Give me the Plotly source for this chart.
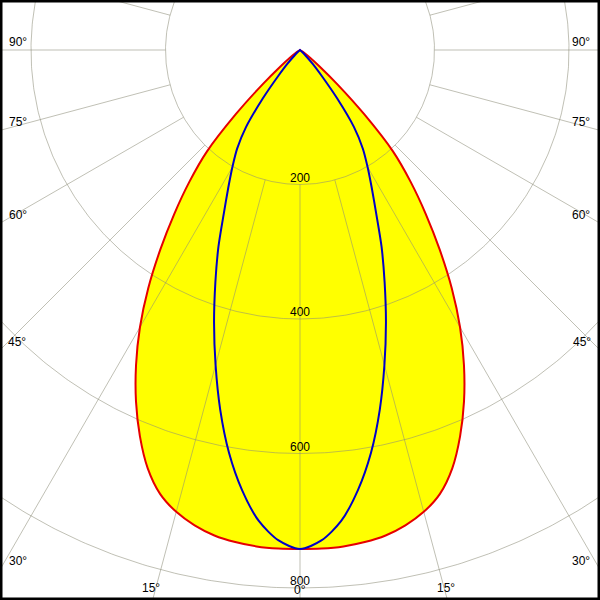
import numpy as np
import plotly.graph_objects as go

# Photometric data (cd) vs gamma angle (deg from nadir)
GAMMA = [0, 2.5, 5, 7.5, 10, 12.5, 15, 17.5, 20, 22.5, 25, 27.5, 30, 32.5, 35,
         37.5, 40, 42.5, 45, 47.5, 50, 52.5, 55, 57.5, 60, 90]
C0_C180 = [742, 742, 741, 738, 733, 724, 711, 692, 662, 622, 577, 528, 476, 420, 362,
           307, 256, 205, 135, 75, 38, 20, 8, 3, 0, 0]
C90_C270 = [742, 730, 703, 660, 608, 548, 485, 425, 368, 317, 268, 231, 201, 174, 140,
            91, 50, 28, 12, 5, 0, 0, 0, 0, 0, 0]

RING_VALUES = [200, 400, 600, 800]
RING_LABELS = ["200", "400", "600", "800"]
SPOKE_ANGLES = list(range(0, 360, 15))
ANGLE_LABELS = ["90°", "75°", "60°", "45°", "30°", "15°", "0°"]

PX_PER_CD = 0.6725
W = 600


def to_xy(gamma, inten):
    g = np.array(gamma, dtype=float)
    r = np.array(inten, dtype=float)
    ang = np.concatenate([-g[::-1], g[1:]])
    rr = np.concatenate([r[::-1], r[1:]])
    t = np.radians(ang)
    return rr * np.sin(t), -rr * np.cos(t)


rx, ry = to_xy(GAMMA, C0_C180)
bx, by = to_xy(GAMMA, C90_C270)

fig = go.Figure()

fig.add_trace(go.Scatter(x=rx, y=ry, mode="lines", fill="toself", fillcolor="#ffff00",
                         line=dict(width=0, color="rgba(0,0,0,0)", shape="spline", smoothing=0.8),
                         hoverinfo="skip"))

gx, gy = [], []
th = np.linspace(0, 2 * np.pi, 721)
for rv in RING_VALUES:
    gx += list(rv * np.sin(th)) + [None]
    gy += list(-rv * np.cos(th)) + [None]
for a in SPOKE_ANGLES:
    t = np.radians(a)
    gx += [RING_VALUES[0] * np.sin(t), 1200 * np.sin(t), None]
    gy += [-RING_VALUES[0] * np.cos(t), -1200 * np.cos(t), None]
fig.add_trace(go.Scatter(x=gx, y=gy, mode="lines",
                         line=dict(color="rgba(140,140,120,0.55)", width=1), hoverinfo="skip"))

fig.add_trace(go.Scatter(x=rx, y=ry, mode="lines",
                         line=dict(color="#e60000", width=2, shape="spline", smoothing=0.8),
                         hoverinfo="skip"))
fig.add_trace(go.Scatter(x=bx, y=by, mode="lines",
                         line=dict(color="#0000c8", width=2, shape="spline", smoothing=0.8),
                         hoverinfo="skip"))

half = W / 2 / PX_PER_CD
ytop = 50 / PX_PER_CD
ybot = -(W - 50) / PX_PER_CD

font = dict(family="Liberation Sans, Arial, sans-serif", size=12, color="black")
ann = []
for rv, lab in zip(RING_VALUES, RING_LABELS):
    ann.append(dict(x=0, y=-rv, xref="x", yref="y", text=lab, showarrow=False,
                    xanchor="center", yanchor="middle", yshift=7, font=font))
left_pos = [(18, 42), (18, 122), (18, 215), (17, 342), (18, 561), (151, 588)]
right_pos = [(581, 42), (581, 122), (581, 215), (582, 342), (581, 561), (446, 588)]
for lab, (px, py) in zip(ANGLE_LABELS[:6], left_pos + []):
    ann.append(dict(x=px / W, y=1 - py / W, xref="paper", yref="paper", text=lab,
                    xanchor="center", yanchor="middle", showarrow=False, font=font))
for lab, (px, py) in zip(ANGLE_LABELS[:6], right_pos):
    ann.append(dict(x=px / W, y=1 - py / W, xref="paper", yref="paper", text=lab,
                    xanchor="center", yanchor="middle", showarrow=False, font=font))
ann.append(dict(x=300 / W, y=1 - 590 / W, xref="paper", yref="paper", text=ANGLE_LABELS[6],
                xanchor="center", yanchor="middle", showarrow=False, font=font))

fig.update_layout(
    width=600, height=600,
    margin=dict(l=0, r=0, t=0, b=0),
    paper_bgcolor="white", plot_bgcolor="white",
    showlegend=False,
    xaxis=dict(range=[-half, half], visible=False, fixedrange=True),
    yaxis=dict(range=[ybot, ytop], visible=False, fixedrange=True),
    annotations=ann,
    shapes=[dict(type="rect", xref="paper", yref="paper", x0=0, y0=0, x1=1, y1=1,
                 line=dict(color="black", width=5))],
)

fig.write_html("out.html", config={"displayModeBar": False},
               post_script="document.body.style.margin='0';document.body.style.overflow='hidden';")
